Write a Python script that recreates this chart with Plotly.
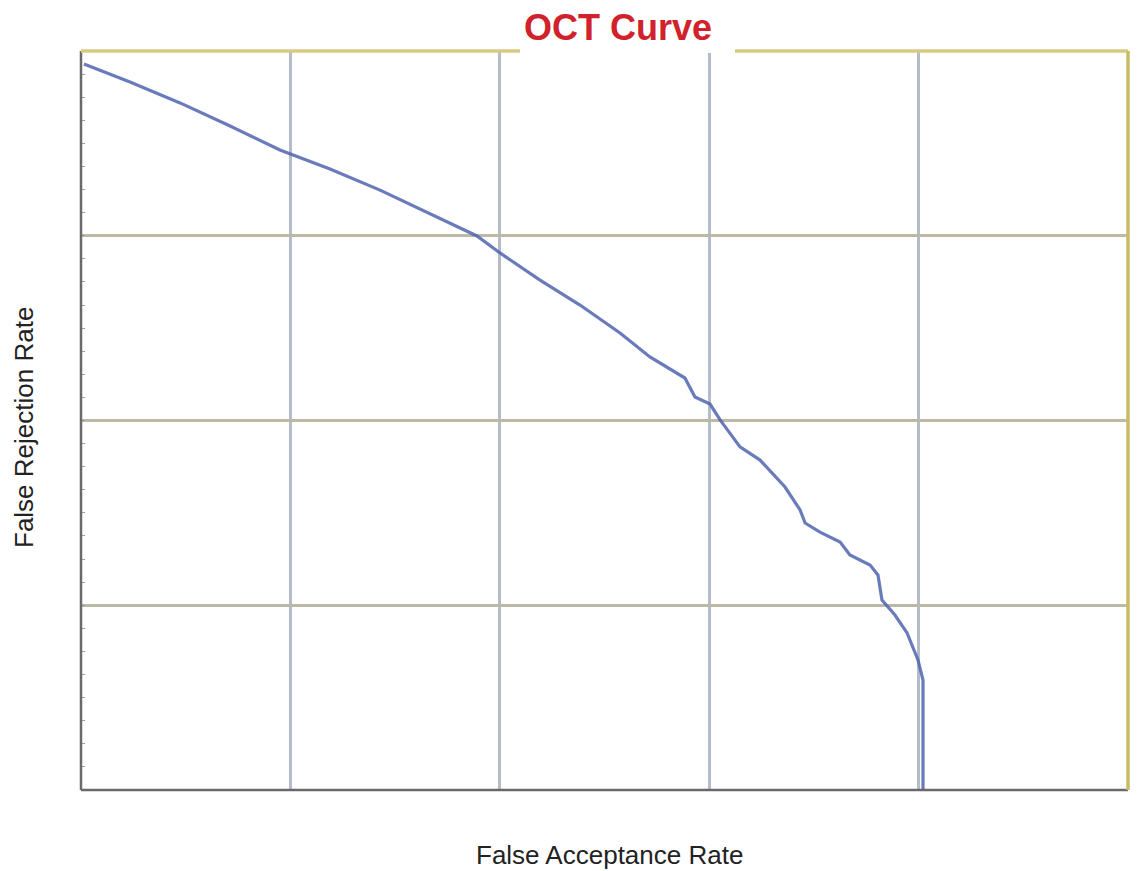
import plotly.graph_objects as go

# Data (axis units: 0..5 horizontal, 0..4 vertical; no tick labels shown)
far = [0.014, 0.234, 0.473, 0.712, 0.950, 1.189, 1.428, 1.667, 1.891, 2.001,
       2.192, 2.383, 2.574, 2.717, 2.884, 2.932, 3.004, 3.052, 3.147, 3.243,
       3.362, 3.434, 3.458, 3.529, 3.625, 3.672, 3.768, 3.806, 3.825, 3.887,
       3.945, 3.997, 4.021, 4.021]
frr = [3.930, 3.832, 3.719, 3.594, 3.464, 3.361, 3.247, 3.118, 2.999, 2.907,
       2.760, 2.625, 2.474, 2.344, 2.230, 2.127, 2.089, 2.003, 1.857, 1.786,
       1.640, 1.516, 1.445, 1.396, 1.342, 1.272, 1.218, 1.164, 1.028, 0.947,
       0.850, 0.704, 0.595, 0.0]
x_grid = [1, 2, 3, 4]
y_grid = [1, 2, 3]

title_text = "OCT Curve"
x_title = "False Acceptance Rate"
y_title = "False Rejection Rate"

# page body has an 8px margin, so the figure is placed at (8, 8)
OFF = 8
PL, PT, PW, PH = 81, 51, 1047, 739  # plot area in window pixels


def px(xp):
    return (xp - PL) / PW


def py(yp):
    return (PT + PH - yp) / PH


fig = go.Figure()
fig.add_trace(go.Scatter(
    x=far, y=frr, mode="lines",
    line=dict(color="rgba(80,100,175,0.85)", width=3.2),
    showlegend=False, hoverinfo="skip",
))

W, H = 1141 - 2 * OFF, 871 - OFF
fig.update_layout(
    width=W, height=H,
    margin=dict(l=PL - OFF, r=W - (PL + PW - OFF), t=PT - OFF,
                b=H - (PT + PH - OFF)),
    paper_bgcolor="white", plot_bgcolor="white",
    xaxis=dict(range=[0, 5], tickvals=x_grid, showticklabels=False,
               showgrid=True, gridcolor="#b4bccb", gridwidth=2.5,
               zeroline=False, showline=False, ticks=""),
    yaxis=dict(range=[0, 4], tickvals=y_grid, showticklabels=False,
               showgrid=True, gridcolor="#bcb9a6", gridwidth=2.5,
               zeroline=False, showline=False, ticks="",
               minor=dict(dtick=0.125, ticks="inside", ticklen=4,
                          tickcolor="#9aa0b0", tickwidth=1, showgrid=False)),
    font=dict(family="Liberation Sans, Arial, sans-serif"),
)

# Frame around the plot area
fig.add_shape(type="line", xref="paper", yref="paper", x0=0, x1=1, y0=0, y1=0,
              line=dict(color="#6a6a6a", width=2.5))
fig.add_shape(type="line", xref="paper", yref="paper", x0=0, x1=0, y0=0, y1=1,
              line=dict(color="#6a6a6a", width=2.5))
fig.add_shape(type="line", xref="paper", yref="paper", x0=0, x1=1, y0=1, y1=1,
              line=dict(color="#d9c982", width=3.5))
fig.add_shape(type="line", xref="paper", yref="paper", x0=1, x1=1, y0=0, y1=1,
              line=dict(color="#c9bc66", width=3.5))

# White box behind the title, covering the top border
fig.add_shape(type="rect", xref="paper", yref="paper",
              x0=px(520), x1=px(735), y0=py(53), y1=py(12),
              fillcolor="white", line=dict(width=0), layer="above")

fig.add_annotation(text="<b>" + title_text + "</b>", xref="paper", yref="paper",
                   x=px(618), y=py(28),
                   xanchor="center", yanchor="middle", showarrow=False,
                   font=dict(size=36, color="#d1222c",
                             family="Liberation Sans, Arial, sans-serif"))

fig.add_annotation(text=x_title, xref="paper", yref="paper",
                   x=px(609), y=py(855),
                   xanchor="center", yanchor="middle", showarrow=False,
                   font=dict(size=26, color="#222222"))
fig.add_annotation(text=y_title, xref="paper", yref="paper",
                   x=px(24), y=py(428),
                   xanchor="center", yanchor="middle", showarrow=False,
                   textangle=-90, font=dict(size=26, color="#222222"))

fig.write_html(
    "out.html",
    post_script="document.documentElement.style.overflow='hidden';"
                "document.body.style.overflow='hidden';",
)
